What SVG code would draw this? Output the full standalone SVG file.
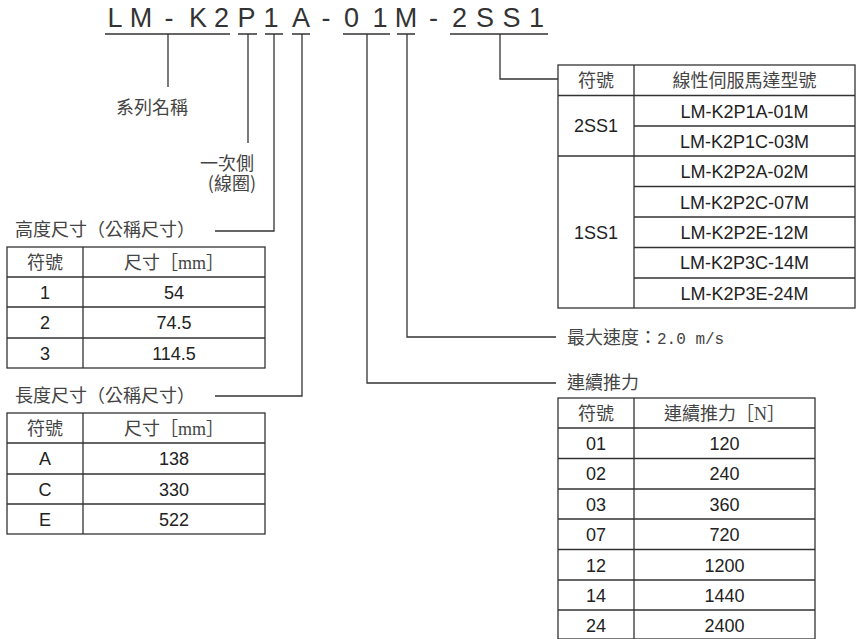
<svg xmlns="http://www.w3.org/2000/svg" width="867" height="639" viewBox="0 0 867 639">
<style>
.ln{stroke:#333;stroke-width:1.3;fill:none}
.tb{stroke:#333;stroke-width:1.3;fill:none}
.code{font-family:"Liberation Sans",Arial,sans-serif;font-size:27px;fill:#333;text-anchor:middle}
.cj{font-family:"Noto Sans CJK TC","Noto Sans CJK SC",sans-serif;font-size:18px;fill:#444}
.cjm{font-family:"Noto Sans CJK TC","Noto Sans CJK SC",sans-serif;font-size:18px;fill:#444;text-anchor:middle}
.t{font-family:"Liberation Sans",Arial,sans-serif;font-size:18px;fill:#222;text-anchor:middle}
.sf{font-family:"Liberation Serif","Times New Roman",serif}
.mo{font-family:"Liberation Mono","Courier New",monospace;font-size:16px}
</style>
<rect width="867" height="639" fill="#fff"/>
<g id="model-code">
<text class="code" x="115" y="27">L</text>
<text class="code" x="141" y="27">M</text>
<text class="code" x="169" y="27">-</text>
<text class="code" x="198" y="27">K</text>
<text class="code" x="221.5" y="27">2</text>
<text class="code" x="246.5" y="27">P</text>
<text class="code" x="271" y="27">1</text>
<text class="code" x="301" y="27">A</text>
<text class="code" x="326" y="27">-</text>
<text class="code" x="351.5" y="27">0</text>
<text class="code" x="380" y="27">1</text>
<text class="code" x="406" y="27">M</text>
<text class="code" x="433.5" y="27">-</text>
<text class="code" x="459.5" y="27">2</text>
<text class="code" x="485" y="27">S</text>
<text class="code" x="511.5" y="27">S</text>
<text class="code" x="536.5" y="27">1</text>
</g>
<g id="connectors">
<path class="ln" d="M105 34H230M238 34H257M265 34H283M292 34H310M343 34H390M397 34H415M450 34H548"/>
<path class="ln" d="M168 34V87"/>
<path class="ln" d="M248 34V143"/>
<path class="ln" d="M274 34V231H215"/>
<path class="ln" d="M302 34V396H215"/>
<path class="ln" d="M367 34V383H556"/>
<path class="ln" d="M407 34V337H556"/>
<path class="ln" d="M500 34V79H558"/>
</g>
<g id="label-series">
<text class="cj" x="116" y="114">系列名稱</text>
</g>
<g id="label-primary">
<text class="cj" text-anchor="end"><tspan x="254" y="170">一次側</tspan><tspan x="256" y="190">(線圈)</tspan></text>
</g>
<g id="table-height">
<text class="cj" x="15" y="236">高度尺寸（公稱尺寸）</text>
<rect class="tb" x="7" y="247" width="258" height="121"/>
<path class="tb" d="M83 247V368M7 277H265M7 307H265M7 338H265"/>
<text class="cjm" x="45" y="268.5">符號</text>
<text class="cjm" x="174" y="268.5">尺寸［<tspan class="sf">mm</tspan>］</text>
<text class="t" x="45" y="298.5">1</text><text class="t" x="174" y="298.5">54</text>
<text class="t" x="45" y="329">2</text><text class="t" x="174" y="329">74.5</text>
<text class="t" x="45" y="359.5">3</text><text class="t" x="174" y="359.5">114.5</text>
</g>
<g id="table-length">
<text class="cj" x="15" y="402">長度尺寸（公稱尺寸）</text>
<rect class="tb" x="7" y="413" width="258" height="121"/>
<path class="tb" d="M83 413V534M7 443H265M7 474H265M7 504H265"/>
<text class="cjm" x="45" y="434.5">符號</text>
<text class="cjm" x="174" y="434.5">尺寸［<tspan class="sf">mm</tspan>］</text>
<text class="t" x="45" y="465">A</text><text class="t" x="174" y="465">138</text>
<text class="t" x="45" y="495.5">C</text><text class="t" x="174" y="495.5">330</text>
<text class="t" x="45" y="525.5">E</text><text class="t" x="174" y="525.5">522</text>
</g>
<g id="table-model">
<rect class="tb" x="558" y="65" width="297" height="243"/>
<path class="tb" d="M634 65V308M558 95.5H855M634 126H855M558 156H855M634 186.5H855M634 217H855M634 247.5H855M634 278H855"/>
<text class="cjm" x="596" y="86.5">符號</text>
<text class="cjm" x="744.5" y="86.5">線性伺服馬達型號</text>
<text class="t" x="596" y="132">2SS1</text>
<text class="t" x="596" y="238.5">1SS1</text>
<text class="t" x="744.5" y="117.5">LM-K2P1A-01M</text>
<text class="t" x="744.5" y="147.5">LM-K2P1C-03M</text>
<text class="t" x="744.5" y="178">LM-K2P2A-02M</text>
<text class="t" x="744.5" y="208.5">LM-K2P2C-07M</text>
<text class="t" x="744.5" y="238.5">LM-K2P2E-12M</text>
<text class="t" x="744.5" y="269">LM-K2P3C-14M</text>
<text class="t" x="744.5" y="299.5">LM-K2P3E-24M</text>
</g>
<g id="label-speed">
<text class="cj" x="567" y="344">最大速度：<tspan class="mo">2.0 m/s</tspan></text>
</g>
<g id="table-force">
<text class="cj" x="567" y="389">連續推力</text>
<rect class="tb" x="558" y="398" width="257" height="241"/>
<path class="tb" d="M634 398V639M558 428H815M558 458.5H815M558 489H815M558 519H815M558 549.5H815M558 580H815M558 610H815"/>
<text class="cjm" x="596" y="419.5">符號</text>
<text class="cjm" x="724.5" y="419.5">連續推力［<tspan class="sf">N</tspan>］</text>
<text class="t" x="596" y="449.5">01</text><text class="t" x="724.5" y="449.5">120</text>
<text class="t" x="596" y="480">02</text><text class="t" x="724.5" y="480">240</text>
<text class="t" x="596" y="510.5">03</text><text class="t" x="724.5" y="510.5">360</text>
<text class="t" x="596" y="540.5">07</text><text class="t" x="724.5" y="540.5">720</text>
<text class="t" x="596" y="571.5">12</text><text class="t" x="724.5" y="571.5">1200</text>
<text class="t" x="596" y="601.5">14</text><text class="t" x="724.5" y="601.5">1440</text>
<text class="t" x="596" y="631.5">24</text><text class="t" x="724.5" y="631.5">2400</text>
</g>
</svg>
